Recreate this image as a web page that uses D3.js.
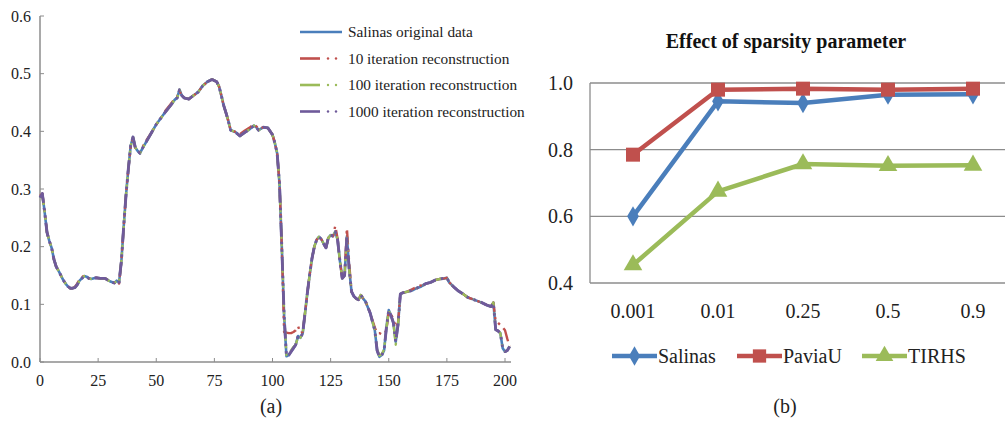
<!DOCTYPE html>
<html>
<head>
<meta charset="utf-8">
<script src="https://cdn.jsdelivr.net/npm/d3@7"></script>
<style>
  body { margin: 0; background: #fff; }
  text { font-family: "Liberation Serif", "Times New Roman", serif; }
</style>
</head>
<body>
<svg id="svg1" width="1005" height="422"></svg>
<script>
// ---- data: panel (a) spectral curves ----
var bands = [0,1,2,3,4,5,6,7,8,9,10,11,12,13,14,15,16,17,18,19,20,21,22,24,26,28,30,32,33,34,35,36,37,38,39,40,41,42,43,44,46,48,50,52,54,56,58,59,60,61,62,64,66,68,70,72,74,76,77,78,79,80,81,82,84,86,88,90,92,93,94,96,98,100,101,102,103,104,105,106,107,108,109,110,111,112,113,114,115,116,117,118,119,120,121,122,123,124,125,126,127,128,129,130,131,132,133,134,135,136,137,138,139,140,141,142,143,144,145,146,147,148,149,150,151,152,153,154,155,156,158,160,162,164,166,168,170,172,174,175,176,178,180,182,184,186,188,190,192,194,195,196,197,198,199,200,201,202];
var original = [0.285,0.292,0.26,0.225,0.21,0.198,0.178,0.165,0.158,0.15,0.142,0.136,0.131,0.128,0.128,0.129,0.134,0.141,0.145,0.149,0.148,0.145,0.144,0.146,0.145,0.145,0.14,0.137,0.141,0.138,0.175,0.235,0.29,0.335,0.375,0.39,0.372,0.366,0.362,0.37,0.384,0.398,0.412,0.423,0.434,0.444,0.455,0.458,0.472,0.462,0.458,0.456,0.462,0.468,0.479,0.486,0.49,0.486,0.478,0.462,0.445,0.432,0.418,0.402,0.399,0.392,0.398,0.403,0.41,0.407,0.402,0.407,0.406,0.394,0.38,0.362,0.31,0.2,0.08,0.01,0.012,0.018,0.024,0.03,0.045,0.042,0.05,0.085,0.12,0.152,0.18,0.2,0.212,0.217,0.213,0.205,0.198,0.215,0.22,0.218,0.226,0.212,0.175,0.145,0.15,0.218,0.16,0.122,0.114,0.11,0.108,0.116,0.11,0.105,0.095,0.085,0.07,0.055,0.02,0.009,0.012,0.02,0.06,0.09,0.08,0.068,0.035,0.065,0.118,0.12,0.122,0.124,0.128,0.131,0.136,0.138,0.142,0.144,0.145,0.146,0.138,0.13,0.123,0.118,0.112,0.109,0.106,0.103,0.099,0.096,0.103,0.056,0.054,0.05,0.024,0.018,0.02,0.027];
var iter10 = [0.288,0.292,0.262,0.225,0.21,0.198,0.178,0.165,0.158,0.15,0.142,0.136,0.131,0.128,0.128,0.13,0.136,0.143,0.147,0.15,0.149,0.145,0.144,0.146,0.145,0.145,0.14,0.137,0.141,0.136,0.175,0.235,0.29,0.335,0.372,0.388,0.37,0.364,0.364,0.372,0.386,0.398,0.412,0.423,0.436,0.446,0.457,0.46,0.47,0.462,0.458,0.456,0.462,0.468,0.479,0.486,0.49,0.486,0.478,0.462,0.445,0.432,0.418,0.402,0.399,0.395,0.401,0.406,0.412,0.409,0.404,0.407,0.406,0.394,0.38,0.362,0.31,0.2,0.052,0.051,0.05,0.05,0.052,0.055,0.062,0.05,0.052,0.085,0.12,0.152,0.18,0.2,0.212,0.217,0.213,0.205,0.198,0.215,0.22,0.218,0.236,0.214,0.175,0.145,0.15,0.232,0.17,0.122,0.114,0.11,0.108,0.116,0.11,0.105,0.095,0.085,0.072,0.06,0.05,0.05,0.048,0.048,0.055,0.088,0.082,0.075,0.06,0.068,0.118,0.12,0.122,0.126,0.13,0.133,0.136,0.138,0.142,0.144,0.145,0.146,0.138,0.13,0.123,0.118,0.112,0.109,0.106,0.103,0.099,0.096,0.103,0.07,0.068,0.064,0.06,0.055,0.04,0.027];
var iter100 = [0.285,0.29,0.26,0.225,0.21,0.198,0.178,0.165,0.158,0.15,0.142,0.136,0.131,0.128,0.128,0.129,0.134,0.141,0.145,0.149,0.148,0.145,0.144,0.146,0.145,0.145,0.14,0.137,0.141,0.138,0.175,0.235,0.29,0.335,0.375,0.39,0.372,0.366,0.362,0.37,0.384,0.398,0.412,0.423,0.434,0.444,0.455,0.458,0.472,0.462,0.458,0.456,0.462,0.468,0.479,0.486,0.49,0.486,0.478,0.462,0.445,0.432,0.418,0.402,0.399,0.392,0.398,0.403,0.41,0.407,0.402,0.407,0.406,0.394,0.38,0.362,0.31,0.2,0.08,0.012,0.014,0.02,0.026,0.03,0.044,0.042,0.05,0.085,0.12,0.152,0.18,0.2,0.212,0.217,0.213,0.205,0.198,0.215,0.22,0.218,0.226,0.212,0.175,0.145,0.15,0.215,0.16,0.122,0.114,0.11,0.108,0.116,0.11,0.105,0.095,0.085,0.07,0.055,0.022,0.011,0.014,0.022,0.06,0.088,0.08,0.068,0.03,0.065,0.118,0.12,0.122,0.124,0.128,0.131,0.136,0.138,0.142,0.144,0.145,0.146,0.138,0.13,0.123,0.118,0.112,0.109,0.106,0.103,0.099,0.096,0.103,0.056,0.054,0.05,0.024,0.018,0.02,0.027];
var iter1000 = [0.285,0.292,0.26,0.225,0.21,0.198,0.178,0.165,0.158,0.15,0.142,0.136,0.131,0.128,0.128,0.129,0.134,0.141,0.145,0.149,0.148,0.145,0.144,0.146,0.145,0.145,0.14,0.137,0.141,0.138,0.175,0.235,0.29,0.335,0.375,0.39,0.372,0.366,0.362,0.37,0.384,0.398,0.412,0.423,0.434,0.444,0.455,0.458,0.472,0.462,0.458,0.456,0.462,0.468,0.479,0.486,0.49,0.486,0.478,0.462,0.445,0.432,0.418,0.402,0.399,0.392,0.398,0.403,0.41,0.407,0.402,0.407,0.406,0.394,0.38,0.362,0.31,0.2,0.08,0.01,0.012,0.018,0.024,0.03,0.045,0.042,0.05,0.085,0.12,0.152,0.18,0.2,0.212,0.217,0.213,0.205,0.198,0.215,0.22,0.218,0.226,0.212,0.175,0.145,0.15,0.218,0.16,0.122,0.114,0.11,0.108,0.116,0.11,0.105,0.095,0.085,0.07,0.055,0.02,0.009,0.012,0.02,0.06,0.09,0.08,0.068,0.035,0.065,0.118,0.12,0.122,0.124,0.128,0.131,0.136,0.138,0.142,0.144,0.145,0.146,0.138,0.13,0.123,0.118,0.112,0.109,0.106,0.103,0.099,0.096,0.103,0.056,0.054,0.05,0.024,0.018,0.02,0.027];
var seriesNamesA = ["Salinas original data", "10 iteration reconstruction", "100 iteration reconstruction", "1000 iteration reconstruction"];
var xTicksA = [0,25,50,75,100,125,150,175,200];
var yTicksA = [0.0,0.1,0.2,0.3,0.4,0.5,0.6];

// ---- data: panel (b) sparsity parameter ----
var sparsity = ["0.001","0.01","0.25","0.5","0.9"];
var salinas = [0.600, 0.945, 0.940, 0.965, 0.966];
var paviaU  = [0.785, 0.980, 0.983, 0.980, 0.983];
var tirhs   = [0.454, 0.675, 0.757, 0.752, 0.753];
var yTicksB = [0.4,0.6,0.8,1.0];

var FONT = "'Liberation Serif', 'Times New Roman', serif";
var svg1 = d3.select("#svg1");
svg1.append("rect").attr("width",1005).attr("height",422).attr("fill","white");

// ================= panel (a) =================
var xA = d3.scaleLinear().domain([0,200]).range([40,505]);
var yA = d3.scaleLinear().domain([0,0.6]).range([362,16]);
var ga = svg1.append("g").attr("font-family", FONT);

ga.append("line").attr("x1",40).attr("x2",40).attr("y1",yA(0.6)).attr("y2",yA(0))
  .attr("stroke","#8c8c8c").attr("stroke-width",1.5);
ga.append("line").attr("x1",40).attr("x2",511).attr("y1",yA(0)).attr("y2",yA(0))
  .attr("stroke","#8c8c8c").attr("stroke-width",1.5);

ga.selectAll(".ytA").data(yTicksA).enter().append("line")
  .attr("x1",40).attr("x2",44).attr("y1",d=>yA(d)).attr("y2",d=>yA(d))
  .attr("stroke","#8c8c8c");
ga.selectAll(".ylA").data(yTicksA).enter().append("text")
  .attr("x",31).attr("y",d=>yA(d)).attr("dy","0.35em")
  .attr("text-anchor","end").attr("font-size",16).attr("fill","#222")
  .text(d=>d.toFixed(1));
ga.selectAll(".xtA").data(xTicksA).enter().append("line")
  .attr("x1",d=>xA(d)).attr("x2",d=>xA(d)).attr("y1",yA(0)).attr("y2",yA(0)-4)
  .attr("stroke","#8c8c8c");
ga.selectAll(".xlA").data(xTicksA).enter().append("text")
  .attr("x",d=>xA(d)).attr("y",386)
  .attr("text-anchor","middle").attr("font-size",16).attr("fill","#222")
  .text(d=>d);

var colorsA = ["#4a7ebb","#c0504d","#9bbb59","#6f5a9a"];
var widthsA = [2.6, 2.4, 2.4, 2.9];
var dashA = [null,"14,5,2.5,5,2.5,5","14,5,2.5,5,2.5,5","14,5,2.5,5,2.5,5"];
var allSeries = [original, iter10, iter100, iter1000];

var lineA = d3.line()
  .x((d,i)=>xA(bands[i]))
  .y(d=>yA(d));

allSeries.forEach(function(s,k){
  ga.append("path")
    .datum(s)
    .attr("d", lineA)
    .attr("fill","none")
    .attr("stroke", colorsA[k])
    .attr("stroke-width", widthsA[k])
    .attr("stroke-linejoin","round")
    .attr("stroke-dasharray", dashA[k]);
});

// legend (a)
var legA = ga.append("g");
seriesNamesA.forEach(function(name,k){
  var y = 32 + k*26.5;
  if (k==0) {
    legA.append("line").attr("x1",300).attr("x2",342).attr("y1",y).attr("y2",y)
      .attr("stroke",colorsA[k]).attr("stroke-width",2.6);
  } else {
    legA.append("line").attr("x1",300).attr("x2",320).attr("y1",y).attr("y2",y)
      .attr("stroke",colorsA[k]).attr("stroke-width",2.6);
    legA.append("circle").attr("cx",328).attr("cy",y).attr("r",1.2).attr("fill",colorsA[k]);
    legA.append("circle").attr("cx",336).attr("cy",y).attr("r",1.2).attr("fill",colorsA[k]);
  }
  legA.append("text").attr("x",348).attr("y",y).attr("dy","0.35em")
    .attr("font-size",15.3).attr("fill","#222").text(name);
});

ga.append("text").attr("x",271).attr("y",413).attr("text-anchor","middle")
  .attr("font-size",20).attr("fill","#222").text("(a)");

// ================= panel (b) =================
var xB = d3.scalePoint().domain(sparsity).range([633,973]);
var yB = d3.scaleLinear().domain([0.4,1.0]).range([283,83]);
var gb = svg1.append("g").attr("font-family", FONT);

gb.append("text").attr("x",786).attr("y",48).attr("text-anchor","middle")
  .attr("font-size",20).attr("font-weight","bold").attr("fill","#111")
  .text("Effect of sparsity parameter");

gb.selectAll(".gridB").data(yTicksB).enter().append("line")
  .attr("x1",590).attr("x2",1015).attr("y1",d=>yB(d)).attr("y2",d=>yB(d))
  .attr("stroke","#8c8c8c").attr("stroke-width",1.3);
gb.append("line").attr("x1",590).attr("x2",590).attr("y1",yB(1.0)).attr("y2",yB(0.4))
  .attr("stroke","#8c8c8c").attr("stroke-width",1.3);

gb.selectAll(".ylB").data(yTicksB).enter().append("text")
  .attr("x",573).attr("y",d=>yB(d)).attr("dy","0.35em")
  .attr("text-anchor","end").attr("font-size",20).attr("fill","#222")
  .text(d=>d.toFixed(1));
gb.selectAll(".xlB").data(sparsity).enter().append("text")
  .attr("x",d=>xB(d)).attr("y",318)
  .attr("text-anchor","middle").attr("font-size",20).attr("fill","#222")
  .text(d=>d);

var seriesB = [
  {name:"Salinas", values:salinas, color:"#4a7ebb", shape:d3.symbolDiamond, size:120},
  {name:"PaviaU",  values:paviaU,  color:"#c0504d", shape:d3.symbolSquare,  size:196},
  {name:"TIRHS",   values:tirhs,   color:"#9bbb59", shape:d3.symbolTriangle, size:150}
];

var lineB = d3.line()
  .x((d,i)=>xB(sparsity[i]))
  .y(d=>yB(d));

seriesB.forEach(function(s){
  gb.append("path").datum(s.values).attr("d",lineB)
    .attr("fill","none").attr("stroke",s.color).attr("stroke-width",4.5)
    .attr("stroke-linejoin","round");
  gb.selectAll(null).data(s.values).enter().append("path")
    .attr("d", d3.symbol().type(s.shape).size(s.size))
    .attr("transform",(d,i)=>"translate(" + xB(sparsity[i]) + "," + yB(d) + ")")
    .attr("fill",s.color);
});

// legend (b)
var legXs = [612, 737, 862];
seriesB.forEach(function(s,k){
  var x0 = legXs[k], y = 356;
  gb.append("line").attr("x1",x0).attr("x2",x0+45).attr("y1",y).attr("y2",y)
    .attr("stroke",s.color).attr("stroke-width",4.5);
  gb.append("path").attr("d", d3.symbol().type(s.shape).size(s.size*0.9))
    .attr("transform","translate(" + (x0+22.5) + "," + y + ")").attr("fill",s.color);
  gb.append("text").attr("x",x0+46).attr("y",y).attr("dy","0.35em")
    .attr("font-size",20).attr("fill","#222").text(s.name);
});

gb.append("text").attr("x",785).attr("y",413).attr("text-anchor","middle")
  .attr("font-size",20).attr("fill","#222").text("(b)");
</script>
</body>
</html>
